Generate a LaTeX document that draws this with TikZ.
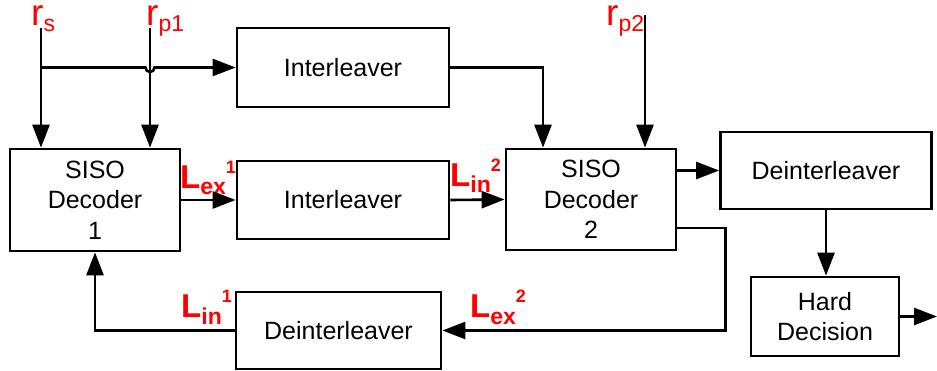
\documentclass[tikz,border=0pt]{standalone}
\usepackage{fontspec}
\setmainfont{Liberation Sans}
\usepackage{tikz}
\usetikzlibrary{arrows.meta}

\newcommand{\sigr}[1]{{\fontsize{37}{37}\selectfont r\raisebox{-6pt}{\fontsize{23}{23}\selectfont #1}}}
\newcommand{\llr}[2]{{\bfseries\fontsize{33}{33}\selectfont L\raisebox{-6pt}{\fontsize{23}{23}\selectfont #1}\raisebox{15pt}{\fontsize{18}{18}\selectfont #2}}}

\begin{document}
\begin{tikzpicture}[x=1pt,y=-1pt,
  blk/.style={draw,line width=2.7pt,align=center,inner sep=0pt,
    font=\fontsize{25}{30.5}\selectfont},
  arr/.style={line width=2.6pt,-{Triangle[length=23pt,width=17pt]}},
  sig/.style={red,inner sep=0pt,anchor=base west}]
\useasboundingbox (0,0) rectangle (937,371);
\node[blk,minimum width=170pt,minimum height=102pt] (siso1) at (95,200) {SISO\\Decoder\\1};
\node[blk,minimum width=212pt,minimum height=79pt] (ilvtop) at (343,67.5) {Interleaver};
\node[blk,minimum width=212pt,minimum height=78pt] (ilvmid) at (343,200) {Interleaver};
\node[blk,minimum width=170pt,minimum height=101pt] (siso2) at (591,199.5) {SISO\\Decoder\\2};
\node[blk,minimum width=211pt,minimum height=77pt] (dilvr) at (826,170.5) {Deinterleaver};
\node[blk,minimum width=148pt,minimum height=79pt] (hard) at (825,316.5) {Hard\\Decision};
\node[blk,minimum width=205pt,minimum height=77pt] (dilvb) at (338.5,330.5) {Deinterleaver};
\coordinate (rs) at (41,28);
\coordinate (rp1) at (150,28);
\coordinate (rp2) at (645,15);
\coordinate (out) at (937,316.5);
\node[sig] (lrs) at (31,26) {\sigr{s}};
\node[sig] (lrp1) at (146,26) {\sigr{p1}};
\node[sig] (lrp2) at (606,26) {\sigr{p2}};
\node[sig] (lex1) at (180,189) {\llr{ex}{1}};
\node[sig] (lin2) at (450,187) {\llr{in}{2}};
\node[sig] (lin1) at (181,318) {\llr{in}{1}};
\node[sig] (lex2) at (470,318) {\llr{ex}{2}};
\draw[arr] (rs) -- (rs |- siso1.north);
\draw[arr] (rp1) -- (rp1 |- siso1.north);
\draw[arr] (rs |- ilvtop.west) -- ++(104.5,0) arc[start angle=180,end angle=0,radius=4.5] -- (ilvtop.west);
\draw[arr] (rp2) -- (rp2 |- siso2.north);
\draw[arr] (ilvtop.east) -| ([xshift=-48pt]siso2.north);
\draw[arr] (siso1.east) -- (ilvmid.west);
\draw[arr] (ilvmid.east) -- (siso2.west);
\draw[arr] (siso2.east |- dilvr.west) -- (dilvr.west);
\draw[arr] ([yshift=-28.5pt]siso2.east) -- ++(48,0) |- (dilvb.east);
\draw[arr] (dilvb.west) -| (siso1.south);
\draw[arr] (dilvr.south) -- (dilvr.south |- hard.north);
\draw[arr] (hard.east) -- (out);
\end{tikzpicture}
\end{document}
